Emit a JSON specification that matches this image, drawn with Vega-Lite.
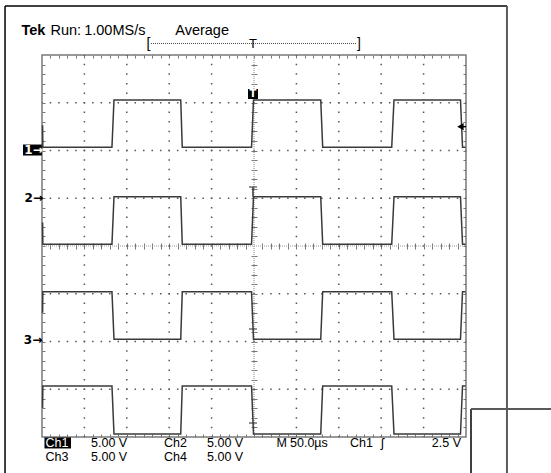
{
"$schema": "https://vega.github.io/schema/vega-lite/v6.json",
"width": 424, "height": 382,
"autosize": {"type": "none"},
"padding": {"left": 42, "top": 55, "right": 85, "bottom": 36},
"background": "white",
"config": {"view": {"stroke": "#7a7a7a", "strokeWidth": 1.5}, "font": "Liberation Sans"},
"encoding": {
  "x": {"field": "t", "type": "quantitative", "scale": {"domain": [-250, 250], "nice": false, "zero": false}, "axis": null},
  "y": {"field": "d", "type": "quantitative", "scale": {"domain": [-4, 4], "nice": false, "zero": false}, "axis": null}
},
"resolve": {"axis": {"x": "independent", "y": "independent"}},
"layer": [
{
  "data": {"values": [
    {"t": -200, "d": -4, "t2": -200, "d2": 4}, {"t": -150, "d": -4, "t2": -150, "d2": 4},
    {"t": -100, "d": -4, "t2": -100, "d2": 4}, {"t": -50, "d": -4, "t2": -50, "d2": 4},
    {"t": 50, "d": -4, "t2": 50, "d2": 4}, {"t": 100, "d": -4, "t2": 100, "d2": 4},
    {"t": 150, "d": -4, "t2": 150, "d2": 4}, {"t": 200, "d": -4, "t2": 200, "d2": 4}
  ]},
  "mark": {"type": "rule", "color": "#555", "strokeWidth": 1.5, "strokeDash": [1.5, 8.05], "strokeDashOffset": 0.75},
  "encoding": {"x2": {"field": "t2"}, "y2": {"field": "d2"}}
},
{
  "data": {"values": [
    {"t": -250, "d": -3, "t2": 250, "d2": -3}, {"t": -250, "d": -2, "t2": 250, "d2": -2},
    {"t": -250, "d": -1, "t2": 250, "d2": -1}, {"t": -250, "d": 1, "t2": 250, "d2": 1},
    {"t": -250, "d": 2, "t2": 250, "d2": 2}, {"t": -250, "d": 3, "t2": 250, "d2": 3}
  ]},
  "mark": {"type": "rule", "color": "#555", "strokeWidth": 1.5, "strokeDash": [1.5, 6.98], "strokeDashOffset": 0.75},
  "encoding": {"x2": {"field": "t2"}, "y2": {"field": "d2"}}
},
{
  "data": {"values": [
    {"t": 0, "d": -4, "t2": 0, "d2": 4}, {"t": -250, "d": 0, "t2": 250, "d2": 0}
  ]},
  "mark": {"type": "rule", "color": "#9a9a9a", "strokeWidth": 1.2, "strokeDash": [1, 1]},
  "encoding": {"x2": {"field": "t2"}, "y2": {"field": "d2"}}
},
{
  "data": {"values": [
    {"ch": "Ch1", "t": -249.3, "d": 2.53}, {"ch": "Ch1", "t": -249.0, "d": 2.067}, {"ch": "Ch1", "t": -167.5, "d": 2.067}, {"ch": "Ch1", "t": -165.1, "d": 3.058},
    {"ch": "Ch1", "t": -86.4, "d": 3.058}, {"ch": "Ch1", "t": -84.6, "d": 2.067}, {"ch": "Ch1", "t": -2.9, "d": 2.067}, {"ch": "Ch1", "t": -0.6, "d": 3.058},
    {"ch": "Ch1", "t": 78.7, "d": 3.058}, {"ch": "Ch1", "t": 81.0, "d": 2.067}, {"ch": "Ch1", "t": 162.4, "d": 2.067}, {"ch": "Ch1", "t": 165.1, "d": 3.058},
    {"ch": "Ch1", "t": 243.5, "d": 3.058}, {"ch": "Ch1", "t": 245.9, "d": 2.067}, {"ch": "Ch1", "t": 249.5, "d": 2.067},
    {"ch": "Ch2", "t": -249.3, "d": 0.49}, {"ch": "Ch2", "t": -249.0, "d": 0.036}, {"ch": "Ch2", "t": -167.5, "d": 0.036}, {"ch": "Ch2", "t": -165.1, "d": 1.032},
    {"ch": "Ch2", "t": -86.4, "d": 1.032}, {"ch": "Ch2", "t": -84.6, "d": 0.036}, {"ch": "Ch2", "t": -2.9, "d": 0.036}, {"ch": "Ch2", "t": -0.6, "d": 1.032},
    {"ch": "Ch2", "t": 78.7, "d": 1.032}, {"ch": "Ch2", "t": 81.0, "d": 0.036}, {"ch": "Ch2", "t": 162.4, "d": 0.036}, {"ch": "Ch2", "t": 165.1, "d": 1.032},
    {"ch": "Ch2", "t": 243.5, "d": 1.032}, {"ch": "Ch2", "t": 245.9, "d": 0.036}, {"ch": "Ch2", "t": 249.5, "d": 0.036},
    {"ch": "Ch3", "t": -249.3, "d": -1.40}, {"ch": "Ch3", "t": -249.0, "d": -0.957}, {"ch": "Ch3", "t": -167.5, "d": -0.957}, {"ch": "Ch3", "t": -165.1, "d": -1.954},
    {"ch": "Ch3", "t": -86.4, "d": -1.954}, {"ch": "Ch3", "t": -84.6, "d": -0.957}, {"ch": "Ch3", "t": -2.9, "d": -0.957}, {"ch": "Ch3", "t": -0.6, "d": -1.954},
    {"ch": "Ch3", "t": 78.7, "d": -1.954}, {"ch": "Ch3", "t": 81.0, "d": -0.957}, {"ch": "Ch3", "t": 162.4, "d": -0.957}, {"ch": "Ch3", "t": 165.1, "d": -1.954},
    {"ch": "Ch3", "t": 243.5, "d": -1.954}, {"ch": "Ch3", "t": 245.9, "d": -0.957}, {"ch": "Ch3", "t": 249.5, "d": -0.957},
    {"ch": "Ch4", "t": -249.3, "d": -3.39}, {"ch": "Ch4", "t": -249.0, "d": -2.932}, {"ch": "Ch4", "t": -167.5, "d": -2.932}, {"ch": "Ch4", "t": -165.1, "d": -3.937},
    {"ch": "Ch4", "t": -86.4, "d": -3.937}, {"ch": "Ch4", "t": -84.6, "d": -2.932}, {"ch": "Ch4", "t": -2.9, "d": -2.932}, {"ch": "Ch4", "t": -0.6, "d": -3.937},
    {"ch": "Ch4", "t": 78.7, "d": -3.937}, {"ch": "Ch4", "t": 81.0, "d": -2.932}, {"ch": "Ch4", "t": 162.4, "d": -2.932}, {"ch": "Ch4", "t": 165.1, "d": -3.937},
    {"ch": "Ch4", "t": 243.5, "d": -3.937}, {"ch": "Ch4", "t": 245.9, "d": -2.932}, {"ch": "Ch4", "t": 249.5, "d": -2.932}
  ]},
  "mark": {"type": "line", "color": "#3a3a3a", "strokeWidth": 1.5},
  "encoding": {
    "detail": {"field": "ch"},
    "x": {"field": "t", "type": "quantitative", "scale": {"domain": [-250, 250], "nice": false, "zero": false},
      "axis": {"orient": "bottom", "offset": -3, "tickSize": 3, "ticks": true, "labels": false, "domain": false, "grid": false, "title": null, "tickColor": "#777", "tickWidth": 1,
        "values": [-240,-230,-220,-210,-200,-190,-180,-170,-160,-150,-140,-130,-120,-110,-100,-90,-80,-70,-60,-50,-40,-30,-20,-10,0,10,20,30,40,50,60,70,80,90,100,110,120,130,140,150,160,170,180,190,200,210,220,230,240]}},
    "y": {"field": "d", "type": "quantitative", "scale": {"domain": [-4, 4], "nice": false, "zero": false},
      "axis": {"orient": "left", "offset": -3, "tickSize": 3, "ticks": true, "labels": false, "domain": false, "grid": false, "title": null, "tickColor": "#777", "tickWidth": 1,
        "values": [-3.8,-3.6,-3.4,-3.2,-3,-2.8,-2.6,-2.4,-2.2,-2,-1.8,-1.6,-1.4,-1.2,-1,-0.8,-0.6,-0.4,-0.2,0,0.2,0.4,0.6,0.8,1,1.2,1.4,1.6,1.8,2,2.2,2.4,2.6,2.8,3,3.2,3.4,3.6,3.8]}}
  }
},
{
  "data": {"values": [{"t": -1.2, "d": 1.236}, {"t": -1.2, "d": -1.738}, {"t": -1.2, "d": -3.707}]},
  "mark": {"type": "tick", "orient": "horizontal", "size": 8, "thickness": 1.5, "color": "#333"}
},
{
  "data": {"values": [{"t": -1.2, "d": 1.032, "t2": -1.2, "d2": 1.236}]},
  "mark": {"type": "rule", "color": "#333", "strokeWidth": 1.5},
  "encoding": {"x2": {"field": "t2"}, "y2": {"field": "d2"}}
},
{
  "data": {"values": [{"t": -7.1, "d": 3.079, "t2": 4.7, "d2": 3.288}, {"t": -272.4, "d": 1.895, "t2": -250.2, "d2": 2.125}, {"t": -247.1, "d": -4.01, "t2": -215.8, "d2": -4.24}]},
  "mark": {"type": "rect", "color": "black"},
  "encoding": {"x2": {"field": "t2"}, "y2": {"field": "d2"}}
},
{
  "data": {"values": [{"t": -1.2, "d": 3.183, "text": "T"}]},
  "mark": {"type": "text", "color": "white", "fontSize": 10, "fontWeight": "bold", "align": "center", "baseline": "middle", "font": "DejaVu Sans"},
  "encoding": {"text": {"field": "text"}}
},
{
  "data": {"values": [{"t": -270.8, "d": 2.01, "text": "1→"}]},
  "mark": {"type": "text", "color": "white", "fontSize": 12, "fontWeight": "bold", "align": "left", "baseline": "middle", "font": "DejaVu Sans"},
  "encoding": {"text": {"field": "text"}}
},
{
  "data": {"values": [{"t": -270.6, "d": 1.005, "text": "2→"}, {"t": -271.4, "d": -1.979, "text": "3→"}]},
  "mark": {"type": "text", "color": "black", "fontSize": 12, "fontWeight": "bold", "align": "left", "baseline": "middle", "font": "DejaVu Sans"},
  "encoding": {"text": {"field": "text"}}
},
{
  "data": {"values": [{"t": 243.4, "d": 2.5}]},
  "mark": {"type": "point", "shape": "triangle-left", "size": 55, "filled": true, "color": "black", "opacity": 1}
},
{
  "data": {"values": [{"t": 246, "d": 2.5, "t2": 250, "d2": 2.5}]},
  "mark": {"type": "rule", "color": "black", "strokeWidth": 1.5},
  "encoding": {"x2": {"field": "t2"}, "y2": {"field": "d2"}}
},
{
  "data": {"values": [
    {"t": -293.6, "d": 5.026, "t2": -293.6, "d2": -4.8},
    {"t": -293.6, "d": 5.026, "t2": 298.3, "d2": 5.026},
    {"t": 255.9, "d": -3.414, "t2": 255.9, "d2": -4.8}
  ]},
  "mark": {"type": "rule", "color": "black", "strokeWidth": 1.5},
  "encoding": {"x2": {"field": "t2"}, "y2": {"field": "d2"}}
},
{
  "data": {"values": [
    {"t": 298.3, "d": 5.026, "t2": 298.3, "d2": -4.8},
    {"t": 255.9, "d": -3.414, "t2": 351, "d2": -3.414}
  ]},
  "mark": {"type": "rule", "color": "#5a5a5a", "strokeWidth": 2},
  "encoding": {"x2": {"field": "t2"}, "y2": {"field": "d2"}}
},
{
  "data": {"values": [{"t": -121.5, "d": 4.24, "t2": 120.3, "d2": 4.24}]},
  "mark": {"type": "rule", "color": "#444", "strokeWidth": 1, "strokeDash": [1, 1]},
  "encoding": {"x2": {"field": "t2"}, "y2": {"field": "d2"}}
},
{
  "data": {"values": [{"t": -126.8, "d": 4.155, "text": "["}, {"t": 121.5, "d": 4.155, "text": "]"}]},
  "mark": {"type": "text", "color": "black", "fontSize": 14, "align": "left", "baseline": "alphabetic"},
  "encoding": {"text": {"field": "text"}}
},
{
  "data": {"values": [{"t": -1.2, "d": 4.14, "text": "T"}]},
  "mark": {"type": "text", "color": "black", "fontSize": 13, "align": "center", "baseline": "alphabetic"},
  "encoding": {"text": {"field": "text"}}
},
{
  "data": {"values": [{"t": -274.2, "d": 4.42, "text": "Tek"}]},
  "mark": {"type": "text", "color": "black", "fontSize": 14.5, "fontWeight": "bold", "align": "left", "baseline": "alphabetic"},
  "encoding": {"text": {"field": "text"}}
},
{
  "data": {"values": [{"t": -240.0, "d": 4.42, "text": "Run:"}, {"t": -92.9, "d": 4.42, "text": "Average"}]},
  "mark": {"type": "text", "color": "black", "fontSize": 14.5, "align": "left", "baseline": "alphabetic"},
  "encoding": {
    "text": {"field": "text"},
    "x": {"field": "t", "type": "quantitative", "scale": {"domain": [-250, 250], "nice": false, "zero": false},
      "axis": {"orient": "top", "offset": -3, "tickSize": 3, "ticks": true, "labels": false, "domain": false, "grid": false, "title": null, "tickColor": "#777", "tickWidth": 1,
        "values": [-240,-230,-220,-210,-200,-190,-180,-170,-160,-150,-140,-130,-120,-110,-100,-90,-80,-70,-60,-50,-40,-30,-20,-10,0,10,20,30,40,50,60,70,80,90,100,110,120,130,140,150,160,170,180,190,200,210,220,230,240]}},
    "y": {"field": "d", "type": "quantitative", "scale": {"domain": [-4, 4], "nice": false, "zero": false},
      "axis": {"orient": "right", "offset": -3, "tickSize": 3, "ticks": true, "labels": false, "domain": false, "grid": false, "title": null, "tickColor": "#777", "tickWidth": 1,
        "values": [-3.8,-3.6,-3.4,-3.2,-3,-2.8,-2.6,-2.4,-2.2,-2,-1.8,-1.6,-1.4,-1.2,-1,-0.8,-0.6,-0.4,-0.2,0,0.2,0.4,0.6,0.8,1,1.2,1.4,1.6,1.8,2,2.2,2.4,2.6,2.8,3,3.2,3.4,3.6,3.8]}}
  }
},
{
  "data": {"values": [{"t": -128.0, "d": 4.42, "text": "1.00MS/s"}]},
  "mark": {"type": "text", "color": "black", "fontSize": 14.5, "align": "right", "baseline": "alphabetic"},
  "encoding": {"text": {"field": "text"}}
},
{
  "data": {"values": [{"t": -245.9, "d": -4.209, "text": "Ch1"}]},
  "mark": {"type": "text", "color": "white", "fontSize": 12.5, "align": "left", "baseline": "alphabetic"},
  "encoding": {"text": {"field": "text"}}
},
{
  "data": {"values": [
    {"t": -192.2, "d": -4.209, "text": "5.00 V"}, {"t": -106.1, "d": -4.209, "text": "Ch2"}, {"t": -55.4, "d": -4.209, "text": "5.00 V"},
    {"t": 26.5, "d": -4.209, "text": "M"}, {"t": 42.5, "d": -4.209, "text": "50.0µs"}, {"t": 113.2, "d": -4.209, "text": "Ch1"}, {"t": 149.8, "d": -4.209, "text": "ʃ"},
    {"t": -245.9, "d": -4.503, "text": "Ch3"}, {"t": -192.2, "d": -4.503, "text": "5.00 V"}, {"t": -106.1, "d": -4.503, "text": "Ch4"}, {"t": -55.4, "d": -4.503, "text": "5.00 V"}
  ]},
  "mark": {"type": "text", "color": "black", "fontSize": 12.5, "align": "left", "baseline": "alphabetic"},
  "encoding": {
    "text": {"field": "text"},
    "x": {"field": "t", "type": "quantitative", "scale": {"domain": [-250, 250], "nice": false, "zero": false},
      "axis": {"orient": "bottom", "offset": -194, "tickSize": 6, "ticks": true, "labels": false, "domain": false, "grid": false, "title": null, "tickColor": "#777", "tickWidth": 1,
        "values": [-240,-230,-220,-210,-200,-190,-180,-170,-160,-150,-140,-130,-120,-110,-100,-90,-80,-70,-60,-50,-40,-30,-20,-10,10,20,30,40,50,60,70,80,90,100,110,120,130,140,150,160,170,180,190,200,210,220,230,240]}},
    "y": {"field": "d", "type": "quantitative", "scale": {"domain": [-4, 4], "nice": false, "zero": false},
      "axis": {"orient": "left", "offset": -215, "tickSize": 6, "ticks": true, "labels": false, "domain": false, "grid": false, "title": null, "tickColor": "#777", "tickWidth": 1,
        "values": [-3.8,-3.6,-3.4,-3.2,-3,-2.8,-2.6,-2.4,-2.2,-2,-1.8,-1.6,-1.4,-1.2,-1,-0.8,-0.6,-0.4,-0.2,0.2,0.4,0.6,0.8,1,1.2,1.4,1.6,1.8,2,2.2,2.4,2.6,2.8,3,3.2,3.4,3.6,3.8]}}
  }
},
{
  "data": {"values": [{"t": 244.1, "d": -4.209, "text": "2.5 V"}]},
  "mark": {"type": "text", "color": "black", "fontSize": 12.5, "align": "right", "baseline": "alphabetic"},
  "encoding": {"text": {"field": "text"}}
}
]
}
